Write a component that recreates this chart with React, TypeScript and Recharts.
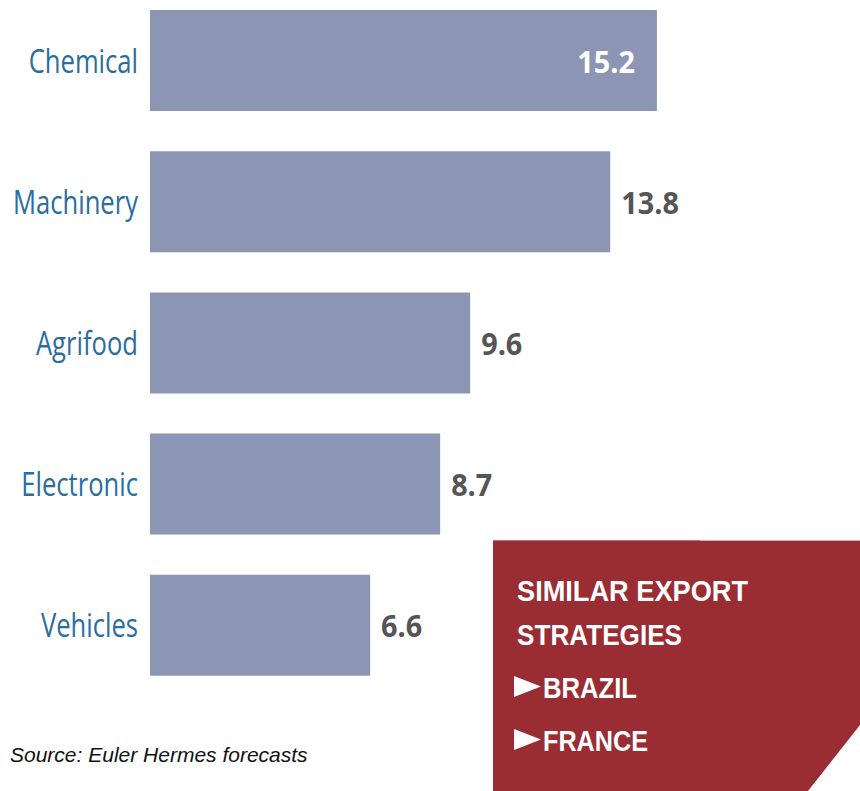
import { BarChart, Bar, XAxis, YAxis, LabelList } from 'recharts';

// Export growth by sector (%)
const categories = ['Chemical', 'Machinery', 'Agrifood', 'Electronic', 'Vehicles'];
const growth = [15.2, 13.8, 9.6, 8.7, 6.6];

const boxTitle = ['SIMILAR EXPORT', 'STRATEGIES'];
const boxLinks = ['BRAZIL', 'FRANCE'];
const sourceNote = 'Source: Euler Hermes forecasts';

const data = categories.map((name, i) => ({ name, value: growth[i] }));
const maxValue = Math.max(...growth);

const BAR_COLOR = '#8c96b4';
const LABEL_BLUE = '#2a6d9e';
const VALUE_GREY = '#555555';
const BOX_RED = '#9a2c33';

const CategoryTick = (props: any) => {
  const { x, y, payload } = props;
  return (
    <text
      transform={`translate(${x},${y + 12}) scale(0.8,1)`}
      textAnchor="end"
      fill={LABEL_BLUE}
      fontFamily="'Open Sans', sans-serif"
      fontSize={32}
    >
      {payload.value}
    </text>
  );
};

const ValueLabel = (props: any) => {
  const { x, y, width, height, value } = props;
  const inside = value === maxValue;
  const cy = y + height / 2 + 12;
  const tx = inside ? x + width - 22 : x + width + 11;
  return (
    <text
      transform={`translate(${tx},${cy}) scale(0.93,1)`}
      textAnchor={inside ? 'end' : 'start'}
      fill={inside ? '#ffffff' : VALUE_GREY}
      fontFamily="'Open Sans', sans-serif"
      fontWeight={700}
      fontSize={31}
    >
      {value.toFixed(1)}
    </text>
  );
};

const App = () => {
  return (
    <div style={{ position: 'absolute', top: 0, left: 0, width: 860, height: 791, background: '#fff', overflow: 'hidden' }}>
      <div style={{ position: 'absolute', top: -10, left: 0 }}>
        <BarChart
          width={860}
          height={720}
          data={data}
          layout="vertical"
          margin={{ top: 0, right: 43, bottom: 14, left: 0 }}
        >
          <XAxis type="number" domain={[0, 20]} hide />
          <YAxis
            type="category"
            dataKey="name"
            width={150}
            axisLine={false}
            tickLine={false}
            tickSize={0}
            tickMargin={12}
            tick={<CategoryTick />}
            interval={0}
          />
          <Bar dataKey="value" fill={BAR_COLOR} barSize={101} isAnimationActive={false}>
            <LabelList dataKey="value" content={<ValueLabel />} />
          </Bar>
        </BarChart>
      </div>

      <div
        style={{
          position: 'absolute',
          left: 10,
          top: 743,
          fontFamily: "'Liberation Sans', Arial, sans-serif",
          fontStyle: 'italic',
          fontSize: 21,
          color: '#111',
          whiteSpace: 'nowrap',
        }}
      >
        {sourceNote}
      </div>

      <svg width={860} height={791} style={{ position: 'absolute', top: 0, left: 0 }}>
        <polygon points="493,540 860,540 860,725 808,791 493,791" fill={BOX_RED} />
        <line x1={493} y1={540.5} x2={700} y2={540.5} stroke="#b07a7e" strokeWidth={1} />
        <line x1={700} y1={540.5} x2={860} y2={540.5} stroke="#d2aeb0" strokeWidth={1} />
        {boxTitle.map((t, i) => (
          <text
            key={t}
            x={517}
            y={601 + i * 44}
            fill="#fff"
            fontFamily="'Liberation Sans', Arial, sans-serif"
            fontWeight={700}
            fontSize={29}
            textLength={i === 0 ? 231 : 165}
            lengthAdjust="spacingAndGlyphs"
          >
            {t}
          </text>
        ))}
        {boxLinks.map((t, i) => (
          <g key={t}>
            <polygon
              points={`514,${676 + i * 53} 541,${686.5 + i * 53} 514,${697 + i * 53}`}
              fill="#fff"
            />
            <text
              x={543}
              y={698 + i * 53}
              fill="#fff"
              fontFamily="'Liberation Sans', Arial, sans-serif"
              fontWeight={700}
              fontSize={29}
              textLength={i === 0 ? 94 : 105}
              lengthAdjust="spacingAndGlyphs"
            >
              {t}
            </text>
          </g>
        ))}
      </svg>
    </div>
  );
};

export default App;
